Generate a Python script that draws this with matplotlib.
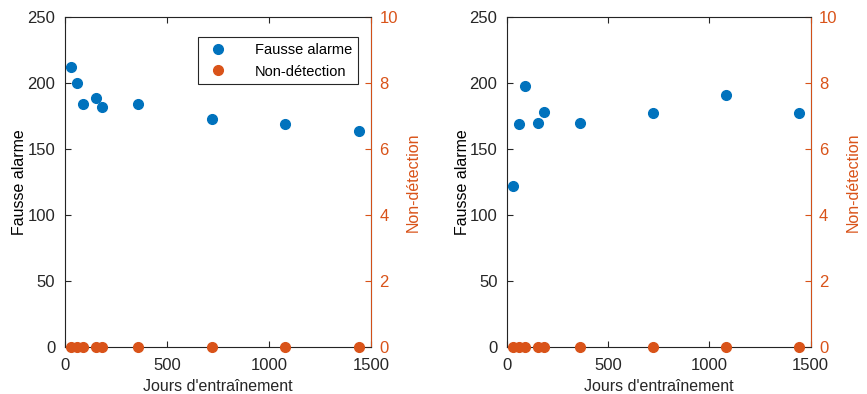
import matplotlib
matplotlib.use("Agg")
import matplotlib.pyplot as plt

plt.rcParams["font.family"] = ["Liberation Sans", "DejaVu Sans"]

days = [30, 60, 90, 150, 180, 360, 720, 1080, 1440]
fa_left = [212, 200, 184, 189, 182, 184, 173, 169, 164]
nd_left = [0, 0, 0, 0, 0, 0, 0, 0, 0]
fa_right = [122, 169, 198, 170, 178, 170, 177, 191, 177]
nd_right = [0, 0, 0, 0, 0, 0, 0, 0, 0]

BLUE = "#0072BD"
ORANGE = "#D95319"
DARK = "#262626"

fig = plt.figure(figsize=(8.67, 3.94), dpi=100)
boxes = [[0.075, 0.119, 0.353, 0.838], [0.585, 0.119, 0.350, 0.838]]
panels = [(fa_left, nd_left, True), (fa_right, nd_right, False)]

for box, (fa, nd, show_leg) in zip(boxes, panels):
    ax = fig.add_axes(box)
    ax2 = ax.twinx()
    h1, = ax.plot(days, fa, "o", color=BLUE, ms=7, label="Fausse alarme", clip_on=False, zorder=3)
    h2, = ax2.plot(days, nd, "o", color=ORANGE, ms=7, label="Non-détection", clip_on=False, zorder=3)
    ax.set_xlim(0, 1500); ax.set_ylim(0, 250)
    ax2.set_ylim(0, 10)
    ax.set_xticks([0, 500, 1000, 1500])
    ax.set_yticks([0, 50, 100, 150, 200, 250])
    ax2.set_yticks([0, 2, 4, 6, 8, 10])
    ax.tick_params(direction="in", top=True, labelsize=12, colors=DARK, length=4)
    ax.tick_params(axis="x", pad=8)
    ax.tick_params(axis="y", pad=7)
    ax2.tick_params(direction="in", labelsize=12, colors=ORANGE, length=4, pad=6)
    ax.set_xlabel("Jours d'entraînement", fontsize=11.5, color=DARK, labelpad=4)
    ax.set_ylabel("Fausse alarme", fontsize=11.5, color="black", labelpad=0)
    ax2.set_ylabel("Non-détection", fontsize=11.5, color=ORANGE, labelpad=6)
    for s in ["left", "bottom", "top"]:
        ax2.spines[s].set_color(DARK)
    ax2.spines["right"].set_color(ORANGE)
    for sp in ax2.spines.values():
        sp.set_linewidth(0.7)
    if show_leg:
        leg = ax2.legend([h1, h2], ["Fausse alarme", "Non-détection"], loc="upper right",
                         fontsize=10.5, fancybox=False, edgecolor=DARK, framealpha=1,
                         handletextpad=1.5, borderpad=0.4, labelspacing=0.5,
                         bbox_to_anchor=(0.98, 0.96))
        leg.get_frame().set_linewidth(0.8)

fig.savefig("out.png", dpi=100)
